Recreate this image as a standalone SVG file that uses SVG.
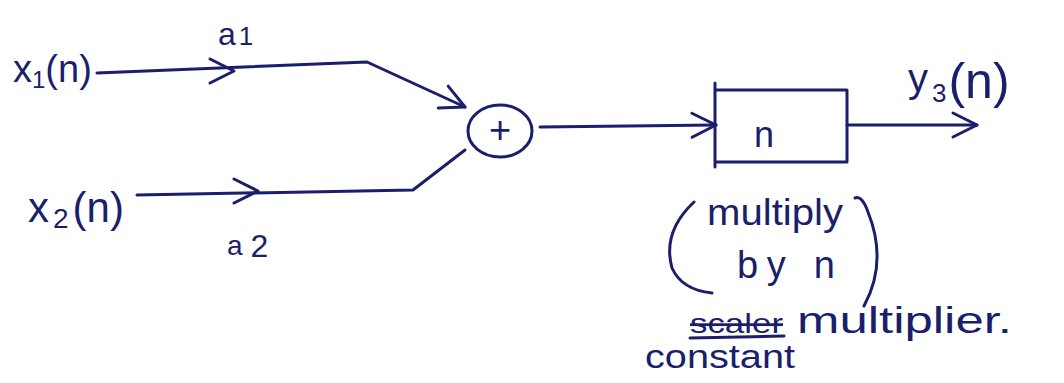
<svg xmlns="http://www.w3.org/2000/svg" width="1064" height="383" viewBox="0 0 1064 383">
<style>
.ln{fill:none;stroke:#1b1f6b;stroke-width:3;stroke-linecap:round;stroke-linejoin:round}
.t{font-family:"Liberation Sans",Arial,sans-serif;fill:#1b1f6b}
</style>
<defs>
<path id="chev" d="M-24,-12 L0,0 L-24,12" class="ln"/>
<marker id="arr" markerUnits="userSpaceOnUse" markerWidth="40" markerHeight="40" viewBox="-30 -20 40 40" refX="0" refY="0" orient="auto">
<path d="M-24,-12 L0,0 L-24,12" fill="none" stroke="#1b1f6b" stroke-width="3" stroke-linecap="round" stroke-linejoin="round"/>
</marker>
</defs>
<rect width="1064" height="383" fill="#ffffff"/>
<g id="connectors">
<path class="ln" d="M97,73 L367,62 L465,107" marker-end="url(#arr)"/>
<use href="#chev" transform="translate(234,71)"/>
<path class="ln" d="M137,195 L413,190 L465,150"/>
<use href="#chev" transform="translate(258,191)"/>
<path class="ln" d="M540,127 L716,125" marker-end="url(#arr)"/>
<path class="ln" d="M847,125 L977,125" marker-end="url(#arr)"/>
</g>
<g id="x1">
<text class="t" x="13" y="82" font-size="38">x<tspan font-size="24" dy="6">1</tspan><tspan dy="-6">(n)</tspan></text>
</g>
<g id="a1">
<text class="t" x="218" y="45" font-size="32">a<tspan font-size="26" dx="3">1</tspan></text>
</g>
<g id="x2">
<text class="t" x="28" y="222" font-size="42">x<tspan font-size="28" dx="4" dy="6">2</tspan><tspan dx="4" dy="-6">(n)</tspan></text>
</g>
<g id="a2">
<text class="t" x="227" y="255" font-size="28">a<tspan font-size="32" dx="8" dy="2">2</tspan></text>
</g>
<g id="adder">
<ellipse class="ln" cx="500" cy="131" rx="32" ry="26"/>
<text class="t" x="500" y="143" font-size="38" text-anchor="middle">+</text>
</g>
<g id="block">
<path class="ln" d="M715,83 L715,167 M715,90 L847,90 L847,162 L715,162"/>
<text class="t" x="764" y="147" font-size="36" text-anchor="middle">n</text>
</g>
<g id="output">
<text class="t" x="908" y="92" font-size="40">y<tspan font-size="26" dx="4" dy="10">3</tspan><tspan font-size="50" dx="2" dy="-4">(n)</tspan></text>
</g>
<g id="note">
<path class="ln" d="M694,202 Q662,232 672,268 Q682,290 712,293"/>
<path class="ln" d="M855,198 Q862,195 868,212 Q888,262 864,306"/>
<text class="t" x="707" y="225" font-size="36" textLength="136" lengthAdjust="spacingAndGlyphs">multiply</text>
<text class="t" x="737" y="278" font-size="38" textLength="98" lengthAdjust="spacing">by n</text>
<text class="t" x="690" y="333" font-size="28" textLength="93" lengthAdjust="spacingAndGlyphs" text-decoration="line-through">scaler</text>
<path class="ln" d="M690,338 L784,336"/>
<text class="t" x="797" y="333" font-size="36" textLength="215" lengthAdjust="spacingAndGlyphs">multiplier.</text>
<text class="t" x="645" y="368" font-size="34" textLength="150" lengthAdjust="spacingAndGlyphs">constant</text>
</g>
</svg>
